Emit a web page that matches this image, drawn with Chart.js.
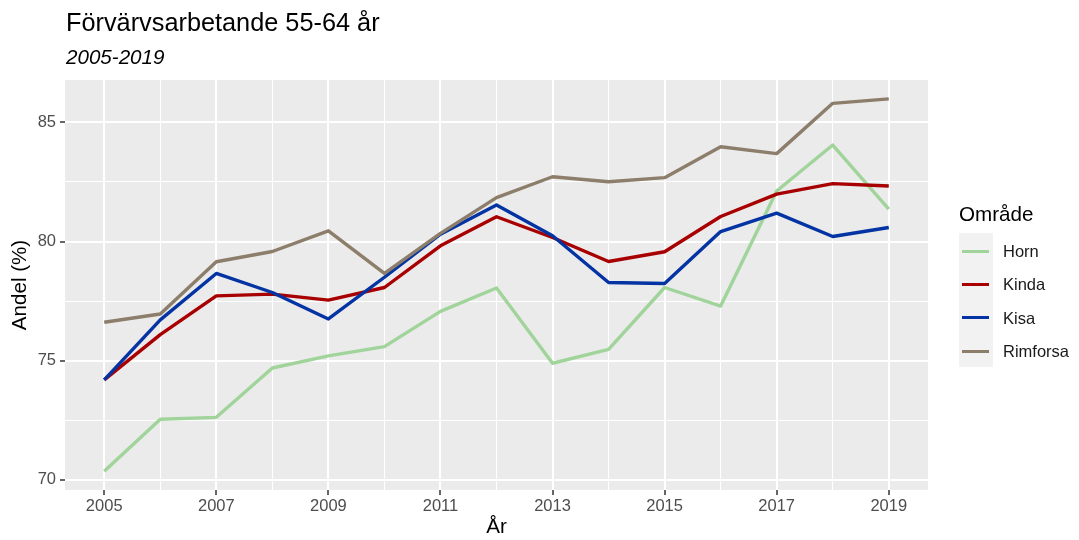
<!DOCTYPE html>
<html>
<head>
<meta charset="utf-8">
<script src="https://cdn.jsdelivr.net/npm/chart.js@4"></script>
<style>
  body { margin: 0; background: #fff; font-family: "Liberation Sans", Arial, sans-serif; }
  #wrap { position: relative; width: 1079px; height: 540px; }
  #title { position: absolute; left: 66px; top: 10px; font-size: 25.3px; line-height: 25px; color: #000; white-space: nowrap; }
  #subtitle { position: absolute; left: 66px; top: 46px; font-size: 20.6px; line-height: 21px; font-style: italic; color: #000; white-space: nowrap; }
  #legend-title { position: absolute; left: 959px; top: 203px; font-size: 20.6px; line-height: 21px; color: #000; }
  #legend-keys { position: absolute; left: 959px; top: 233px; width: 34px; height: 134px; background: #f2f2f2; }
  .key-line { position: absolute; left: 962px; width: 27px; height: 3px; }
  .key-label { position: absolute; left: 1003px; height: 20px; line-height: 20px; font-size: 16.5px; color: #1a1a1a; white-space: nowrap; }
</style>
</head>
<body>
<div id="wrap">
  <canvas id="chart" width="1079" height="540"></canvas>
  <div id="title">Förvärvsarbetande 55-64 år</div>
  <div id="subtitle">2005-2019</div>
  <div id="legend-title">Område</div>
  <div id="legend-keys"></div>
</div>
<script>
// data
const years = [2005, 2006, 2007, 2008, 2009, 2010, 2011, 2012, 2013, 2014, 2015, 2016, 2017, 2018, 2019];
const areas = ["Horn", "Kinda", "Kisa", "Rimforsa"];
const horn     = [70.36, 72.54, 72.62, 74.69, 75.20, 75.59, 77.07, 78.05, 74.89, 75.47, 78.07, 77.29, 82.12, 84.05, 81.36];
const kinda    = [74.19, 76.09, 77.72, 77.79, 77.54, 78.07, 79.82, 81.04, 80.17, 79.16, 79.57, 81.05, 81.99, 82.43, 82.33];
const kisa     = [74.19, 76.71, 78.66, 77.86, 76.75, 78.50, 80.31, 81.53, 80.24, 78.28, 78.24, 80.42, 81.19, 80.21, 80.59];
const rimforsa = [76.61, 76.96, 79.15, 79.58, 80.45, 78.66, 80.34, 81.84, 82.72, 82.51, 82.68, 83.98, 83.69, 85.80, 85.99];
const yTicks = [70, 72.5, 75, 77.5, 80, 82.5, 85];
const colors = ["#a1d49b", "#a80000", "#0433a3", "#8c7e6b"];

const seriesValues = [horn, kinda, kisa, rimforsa];

// grey panel behind the grid
const panelBg = {
  id: "panelBg",
  beforeDraw(chart) {
    const { ctx, chartArea: a } = chart;
    ctx.save();
    ctx.fillStyle = "#ebebeb";
    ctx.fillRect(a.left, a.top, a.right - a.left, a.bottom - a.top);
    ctx.restore();
  }
};

const datasets = areas.map((name, i) => ({
  label: name,
  data: years.map((yr, j) => ({ x: yr, y: seriesValues[i][j] })),
  borderColor: colors[i],
  backgroundColor: colors[i],
  borderWidth: 3.4,
  pointRadius: 0,
  tension: 0,
  borderJoinStyle: "round",
  order: areas.length - i
}));

const isMajorX = (v) => (v - 2005) % 2 === 0;
const isMajorY = (v) => v % 5 === 0;

new Chart(document.getElementById("chart"), {
  type: "line",
  data: { datasets },
  plugins: [panelBg],
  options: {
    responsive: false,
    animation: false,
    layout: { padding: { top: 80, right: 151, bottom: 0, left: 8 } },
    plugins: { legend: { display: false }, tooltip: { enabled: false } },
    scales: {
      x: {
        type: "linear",
        min: 2004.3,
        max: 2019.7,
        afterBuildTicks: (scale) => { scale.ticks = years.map((v) => ({ value: v })); },
        afterFit: (scale) => { scale.height = 50; },
        border: { display: false },
        grid: {
          color: "#ffffff",
          lineWidth: (c) => (isMajorX(c.tick.value) ? 2 : 1),
          tickColor: (c) => (isMajorX(c.tick.value) ? "#333333" : "rgba(0,0,0,0)"),
          tickLength: 5,
          tickWidth: 1.5
        },
        ticks: {
          autoSkip: false,
          maxRotation: 0,
          padding: 2,
          color: "#4d4d4d",
          font: { family: "Liberation Sans", size: 16.5 },
          callback: (v) => (isMajorX(v) ? String(v) : "")
        },
        title: {
          display: true,
          text: "År",
          color: "#000",
          font: { family: "Liberation Sans", size: 20.6 },
          padding: 0
        }
      },
      y: {
        min: 69.57,
        max: 86.78,
        afterBuildTicks: (scale) => { scale.ticks = yTicks.map((v) => ({ value: v })); },
        afterFit: (scale) => { scale.width = 57; },
        border: { display: false },
        grid: {
          color: "#ffffff",
          lineWidth: (c) => (isMajorY(c.tick.value) ? 2 : 1),
          tickColor: (c) => (isMajorY(c.tick.value) ? "#333333" : "rgba(0,0,0,0)"),
          tickLength: 5,
          tickWidth: 1.5
        },
        ticks: {
          padding: 4,
          color: "#4d4d4d",
          font: { family: "Liberation Sans", size: 16.5 },
          callback: (v) => (isMajorY(v) ? String(v) : "")
        },
        title: {
          display: true,
          text: "Andel (%)",
          color: "#000",
          font: { family: "Liberation Sans", size: 20.6 },
          padding: 0
        }
      }
    }
  }
});

// legend built from the same series names and colours
const wrap = document.getElementById("wrap");
areas.forEach((name, i) => {
  const cy = 251 + i * 33.4;
  const line = document.createElement("div");
  line.className = "key-line";
  line.style.top = (cy - 1.5) + "px";
  line.style.background = colors[i];
  wrap.appendChild(line);
  const label = document.createElement("div");
  label.className = "key-label";
  label.style.top = (cy - 10) + "px";
  label.textContent = name;
  wrap.appendChild(label);
});
</script>
</body>
</html>
